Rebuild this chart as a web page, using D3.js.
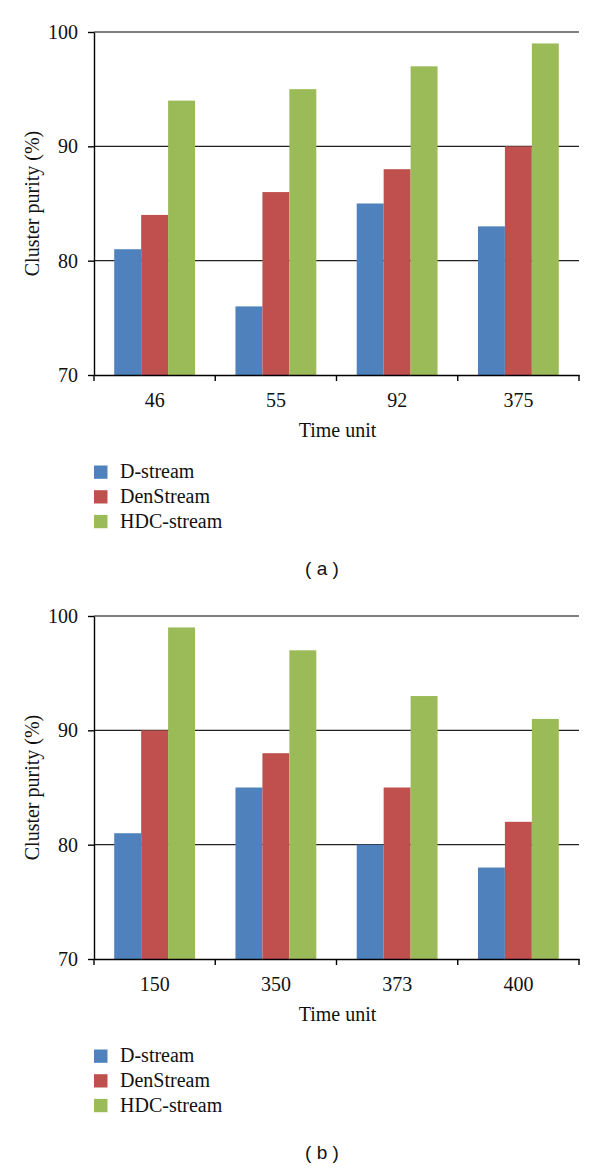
<!DOCTYPE html>
<html>
<head>
<meta charset="utf-8">
<script src="https://cdn.jsdelivr.net/npm/d3@7"></script>
<style>
  html, body { margin: 0; padding: 0; background: #fff; }
  svg { display: block; }
  .serif { font-family: "Liberation Serif", "Times New Roman", Times, serif; }
  .sans { font-family: "Liberation Sans", Arial, sans-serif; }
</style>
</head>
<body>
<script>
const seriesNames = ["D-stream", "DenStream", "HDC-stream"];
const seriesColors = ["#4F81BD", "#C0504D", "#9BBB59"];
const yTicks = [70, 80, 90, 100];
const yLabel = "Cluster purity (%)";
const xLabel = "Time unit";

const categoriesA = ["46", "55", "92", "375"];
const dStreamA = [81, 76, 85, 83];
const denStreamA = [84, 86, 88, 90];
const hdcStreamA = [94, 95, 97, 99];

const categoriesB = ["150", "350", "373", "400"];
const dStreamB = [81, 85, 80, 78];
const denStreamB = [90, 88, 85, 82];
const hdcStreamB = [99, 97, 93, 91];

const W = 600, H = 1168;
const FS = 20;

const svg = d3.select("body").append("svg")
  .attr("width", W).attr("height", H)
  .attr("viewBox", `0 0 ${W} ${H}`);

function serifText(sel) {
  return sel.attr("class", "serif").attr("font-size", FS).attr("fill", "#111");
}

function drawPanel(categories, seriesValues, top, bottom, caption) {
  const left = 94, right = 579;
  const g = svg.append("g");

  const x = d3.scaleBand().domain(categories).range([left, right]).paddingInner(0).paddingOuter(0);
  const x1 = d3.scaleBand().domain(seriesNames).range([0, x.bandwidth()]).paddingInner(0).paddingOuter(0.75);
  const y = d3.scaleLinear().domain([70, 100]).range([bottom, top]);

  // gridlines
  g.append("g").selectAll("line")
    .data(yTicks.filter(t => t > 70))
    .join("line")
    .attr("x1", left).attr("x2", right)
    .attr("y1", d => y(d)).attr("y2", d => y(d))
    .attr("stroke", d => d === 100 ? "#555" : "#222").attr("stroke-width", 1.3);

  // bars
  const rows = categories.map((c, i) => ({ c, vals: seriesNames.map((s, j) => ({ s, j, v: seriesValues[j][i] })) }));
  g.append("g").selectAll("g")
    .data(rows)
    .join("g")
    .attr("transform", d => `translate(${x(d.c)},0)`)
    .selectAll("rect")
    .data(d => d.vals)
    .join("rect")
    .attr("x", d => x1(d.s))
    .attr("width", x1.bandwidth())
    .attr("y", d => y(d.v))
    .attr("height", d => y(70) - y(d.v))
    .attr("fill", d => seriesColors[d.j]);

  // y axis
  const yAxis = g.append("g")
    .attr("transform", `translate(${left},0)`)
    .call(d3.axisLeft(y).tickValues(yTicks).tickSize(6).tickPadding(10).tickSizeOuter(0));
  yAxis.attr("font-family", null).attr("font-size", null);
  yAxis.select(".domain").attr("stroke", "#000").attr("stroke-width", 1.4);
  yAxis.selectAll(".tick line").attr("stroke", "#000").attr("stroke-width", 1.4);
  serifText(yAxis.selectAll(".tick text"));

  // x axis (labels at band centers)
  const xAxis = g.append("g")
    .attr("transform", `translate(0,${bottom})`)
    .call(d3.axisBottom(x).tickSize(0).tickSizeOuter(0));
  xAxis.attr("font-family", null).attr("font-size", null);
  xAxis.select(".domain").attr("stroke", "#000").attr("stroke-width", 1.4);
  serifText(xAxis.selectAll(".tick text").attr("y", 32).attr("dy", null));

  // boundary ticks
  const bounds = categories.map(c => x(c)).concat([right]);
  g.append("g").selectAll("line")
    .data(bounds)
    .join("line")
    .attr("x1", d => d).attr("x2", d => d)
    .attr("y1", bottom).attr("y2", bottom + 6)
    .attr("stroke", "#000").attr("stroke-width", 1.4);

  // axis titles
  serifText(g.append("text"))
    .attr("x", (left + right) / 2 + 1).attr("y", bottom + 62)
    .attr("text-anchor", "middle")
    .text(xLabel);

  serifText(g.append("text"))
    .attr("transform", `translate(39,${(top + bottom) / 2}) rotate(-90)`)
    .attr("text-anchor", "middle")
    .text(yLabel);

  // legend
  const leg = g.append("g").attr("transform", `translate(94,${bottom + 90.5})`);
  const items = leg.selectAll("g").data(seriesNames).join("g")
    .attr("transform", (d, i) => `translate(0,${i * 24.7})`);
  items.append("rect")
    .attr("width", 13.5).attr("height", 13.3)
    .attr("fill", (d, i) => seriesColors[i]);
  serifText(items.append("text"))
    .attr("x", 26).attr("y", 12.8)
    .text(d => d);

  // caption
  g.append("text")
    .attr("class", "sans")
    .attr("x", 322).attr("y", bottom + 200)
    .attr("text-anchor", "middle")
    .attr("font-size", 19).attr("fill", "#111")
    .style("white-space", "pre")
    .text(caption);
}

drawPanel(categoriesA, [dStreamA, denStreamA, hdcStreamA], 32, 375, "( a )");
drawPanel(categoriesB, [dStreamB, denStreamB, hdcStreamB], 616, 959, "( b )");
</script>
</body>
</html>
